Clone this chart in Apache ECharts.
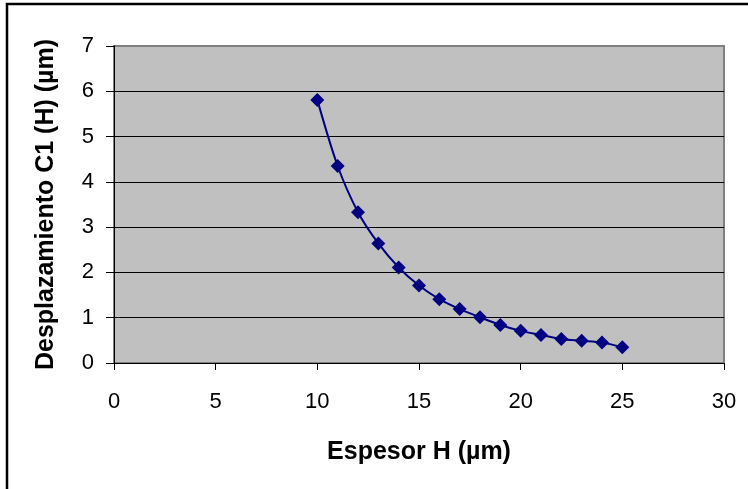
<!DOCTYPE html>
<html>
<head>
<meta charset="utf-8">
<script src="https://cdn.jsdelivr.net/npm/echarts@6/dist/echarts.min.js"></script>
<style>html,body{margin:0;padding:0;background:#fff;}#c{width:748px;height:489px;}</style>
</head>
<body>
<div id="c"></div>
<script>
var espesor = [10, 11, 12, 13, 14, 15, 16, 17, 18, 19, 20, 21, 22, 23, 24, 25];
var desplazamiento = [5.81, 4.35, 3.33, 2.64, 2.11, 1.71, 1.41, 1.19, 1.01, 0.84, 0.71, 0.62, 0.53, 0.49, 0.45, 0.35];
var xTitle = 'Espesor H (µm)';
var yTitle = 'Desplazamiento C1 (H) (µm)';

var chart = echarts.init(document.getElementById('c'), null, {renderer: 'canvas'});
var pts = espesor.map(function (x, i) { return [x, desplazamiento[i]]; });
var font = 'Liberation Sans, Arial, sans-serif';
chart.setOption({
  animation: false,
  backgroundColor: '#ffffff',
  grid: {left: 114, top: 46, right: 24, bottom: 126, show: true, backgroundColor: '#C0C0C0', borderColor: '#808080', borderWidth: 2},
  graphic: [{
    type: 'rect', z: 100, silent: true,
    shape: {x: 7, y: 4, width: 760, height: 500},
    style: {fill: 'none', stroke: '#000', lineWidth: 2.5}
  }],
  xAxis: {
    type: 'value', min: 0, max: 30, interval: 5,
    name: xTitle, nameLocation: 'middle', nameGap: 77,
    nameTextStyle: {fontFamily: font, fontWeight: 'bold', fontSize: 25, color: '#000'},
    axisLine: {show: true, onZero: false, lineStyle: {color: '#000', width: 1}},
    axisTick: {show: true, inside: false, length: 7, lineStyle: {color: '#000'}},
    axisLabel: {fontFamily: font, fontSize: 22, color: '#000', margin: 28},
    splitLine: {show: false}
  },
  yAxis: {
    type: 'value', min: 0, max: 7, interval: 1,
    name: yTitle, nameLocation: 'middle', nameGap: 55, nameRotate: 90,
    nameTextStyle: {fontFamily: font, fontWeight: 'bold', fontSize: 25, color: '#000'},
    axisLine: {show: true, onZero: false, lineStyle: {color: '#000', width: 1}},
    axisTick: {show: true, inside: false, length: 8, lineStyle: {color: '#000'}},
    axisLabel: {fontFamily: font, fontSize: 22, color: '#000', margin: 20},
    splitLine: {show: true, lineStyle: {color: ['#000', '#000', '#000', '#000', '#000', '#000', '#000', '#808080'], width: 1}}
  },
  series: [{
    type: 'line', data: pts, smooth: 0.3,
    symbol: 'diamond', symbolSize: 14,
    lineStyle: {color: '#000080', width: 2},
    itemStyle: {color: '#000080'}
  }]
});
</script>
</body>
</html>
